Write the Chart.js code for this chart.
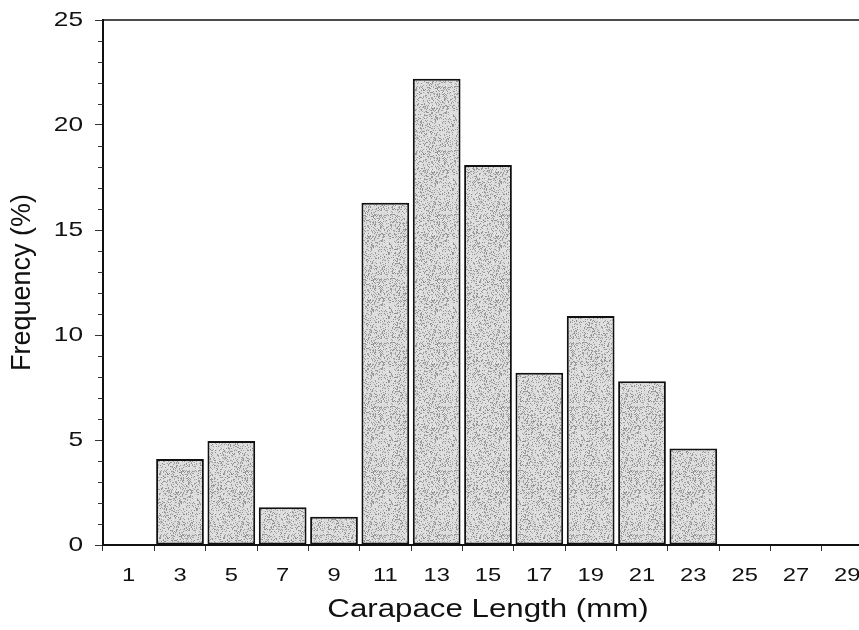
<!DOCTYPE html>
<html lang="en">
<head>
  <meta charset="UTF-8">
  <title>Carapace Length Frequency</title>
  <script src="https://cdn.jsdelivr.net/npm/chart.js"></script>
  <style>
    body {
      margin: 0;
      padding: 0;
      background: #fff;
      overflow: hidden;
    }
    #wrap {
      width: 876px;
      height: 630px;
    }
  </style>
</head>
<body>
  <div id="wrap">
    <canvas id="lengthChart" width="876" height="630"></canvas>
  </div>

  <script>
    // Size classes (mm) and percentage of animals in each
    const lengthClasses = ['1', '3', '5', '7', '9', '11', '13', '15', '17', '19', '21', '23', '25', '27', '29'];
    const frequencyPct = [0, 4.1, 4.95, 1.8, 1.35, 16.3, 22.2, 18.1, 8.2, 10.9, 7.8, 4.6, 0, 0, 0];
    const yTicks = [0, 5, 10, 15, 20, 25];

    const FONT = '"Liberation Sans", Arial, sans-serif';
    const TEXT_STRETCH = 1.25; // horizontal labels are set in a wide face

    // stippled grey fill for the bars
    function stipple() {
      const c = document.createElement('canvas');
      c.width = c.height = 64;
      const g = c.getContext('2d');
      const img = g.createImageData(64, 64);
      for (let y = 0; y < 64; y++) {
        for (let x = 0; x < 64; x++) {
          let h = Math.imul(x, 374761393) + Math.imul(y, 668265263);
          h = Math.imul(h ^ (h >>> 13), 1274126177);
          h = (h ^ (h >>> 16)) >>> 0;
          const r = (h & 255) / 255;
          const v = r < 0.25 ? 140 + (h >>> 8 & 31) : 214 + (h >>> 8 & 15);
          const i = (y * 64 + x) * 4;
          img.data[i] = img.data[i + 1] = img.data[i + 2] = v;
          img.data[i + 3] = 255;
        }
      }
      g.putImageData(img, 0, 0);
      return g.createPattern(c, 'repeat');
    }

    // widen upright text around its anchor; rotated text is left alone
    const wideText = {
      id: 'wideText',
      beforeDraw(chart) {
        const c = chart.ctx;
        if (c._wide) return;
        const orig = c.fillText;
        c.fillText = function (text, x, y) {
          const m = this.getTransform();
          if (Math.abs(m.b) > 1e-6) return orig.call(this, text, x, y);
          this.save();
          this.translate(x, y);
          this.scale(TEXT_STRETCH, 1);
          orig.call(this, text, 0, 0);
          this.restore();
        };
        c._wide = true;
      }
    };

    // frame top line + unit minor ticks on the y axis
    const frameExtras = {
      id: 'frameExtras',
      afterDraw(chart) {
        const { ctx, chartArea } = chart;
        const y = chart.scales.y;
        ctx.save();
        ctx.strokeStyle = '#111';
        ctx.lineWidth = 1.5;
        ctx.beginPath();
        ctx.moveTo(chartArea.left, chartArea.top);
        ctx.lineTo(chartArea.right, chartArea.top);
        ctx.stroke();
        ctx.lineWidth = 1;
        ctx.strokeStyle = '#333';
        for (let v = y.min; v <= y.max; v++) {
          if (v % 5 === 0) continue;
          const py = Math.round(y.getPixelForValue(v)) + 0.5;
          ctx.beginPath();
          ctx.moveTo(chartArea.left - 5, py);
          ctx.lineTo(chartArea.left, py);
          ctx.stroke();
        }
        ctx.restore();
      }
    };

    const ctx = document.getElementById('lengthChart').getContext('2d');
    new Chart(ctx, {
      type: 'bar',
      data: {
        labels: lengthClasses,
        datasets: [{
          data: frequencyPct,
          backgroundColor: stipple(),
          borderColor: '#111',
          borderWidth: 2,
          borderSkipped: false,
          categoryPercentage: 1,
          barPercentage: 0.93
        }]
      },
      options: {
        responsive: false,
        animation: false,
        layout: { padding: { top: 20, right: 3, left: 0, bottom: 0 } },
        plugins: {
          legend: { display: false },
          tooltip: { enabled: false }
        },
        scales: {
          x: {
            afterFit(scale) { scale.height = 85; },
            grid: {
              display: true,
              drawOnChartArea: false,
              offset: true,
              tickLength: 6,
              tickColor: '#333',
              tickWidth: 1
            },
            border: { display: true, color: '#111', width: 2 },
            ticks: {
              color: '#111',
              padding: 13,
              maxRotation: 0,
              autoSkip: false,
              font: { family: FONT, size: 19 }
            },
            title: {
              display: true,
              text: 'Carapace Length (mm)',
              color: '#111',
              padding: { top: 0, bottom: 5 },
              font: { family: FONT, size: 25 }
            }
          },
          y: {
            min: 0,
            max: 25,
            afterFit(scale) { scale.width = 103; },
            afterBuildTicks(scale) {
              scale.ticks = yTicks.map(v => ({ value: v }));
            },
            grid: {
              display: true,
              drawOnChartArea: false,
              tickLength: 8,
              tickColor: '#333',
              tickWidth: 1
            },
            border: { display: true, color: '#111', width: 2 },
            ticks: {
              color: '#111',
              padding: 12,
              // single-line labels: a tight line height keeps the top label from pushing the plot down
              font: { family: FONT, size: 21, lineHeight: 0.6 }
            },
            title: {
              display: true,
              text: 'Frequency (%)',
              color: '#111',
              padding: { top: 6, bottom: 0 },
              font: { family: FONT, size: 27 }
            }
          }
        }
      },
      plugins: [wideText, frameExtras]
    });
  </script>
</body>
</html>
